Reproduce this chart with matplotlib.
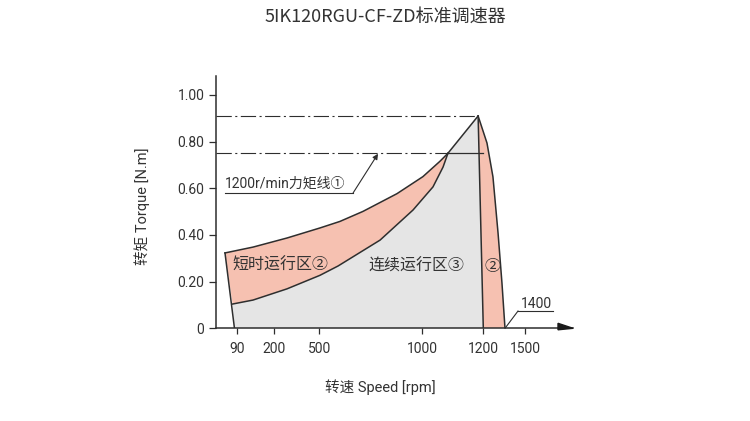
import numpy as np
import matplotlib
matplotlib.use("Agg")
import matplotlib.pyplot as plt
from matplotlib.patches import Polygon

plt.rcParams['font.family'] = ['Roboto', 'Noto Sans CJK SC', 'DejaVu Sans']
plt.rcParams['lines.scale_dashes'] = False

# ---------------- data ----------------
title = "5IK120RGU-CF-ZD标准调速器"
xlabel = "转速 Speed [rpm]"
ylabel = "转矩 Torque [N.m]"
x_ticks = [90, 200, 500, 1000, 1200, 1500]
x_ticklabels = ["90", "200", "500", "1000", "1200", "1500"]
y_ticks = [0, 0.2, 0.4, 0.6, 0.8, 1.0]
y_ticklabels = ["0", "0.20", "0.40", "0.60", "0.80", "1.00"]

# short-time zone upper boundary (rpm, N.m)
upper_rpm = [38, 137, 286, 503, 600, 712, 877, 1002, 1058, 1084]
upper_tq = [0.323, 0.348, 0.387, 0.430, 0.458, 0.501, 0.577, 0.650, 0.716, 0.750]
# continuous zone upper boundary
lower_rpm = [70, 137, 286, 503, 591, 795, 955, 1035, 1068, 1084]
lower_tq = [0.104, 0.121, 0.169, 0.227, 0.267, 0.378, 0.507, 0.606, 0.691, 0.750]
# peak and right edges
peak_rpm, peak_tq = 1183, 0.91
base_left_rpm = 78
base_cont_rpm = 1200
# short-time right boundary (after 1200 r/min)
right_rpm = [1183, 1234, 1289, 1336, 1372, 1400]
right_tq = [0.91, 0.794, 0.649, 0.408, 0.194, 0.0]
rated_tq = 0.75      # 1200 r/min torque line
rated_cross_rpm = 1084

# non-uniform schematic speed axis (rpm -> relative position)
scale_rpm = [-1000, 0, 90, 200, 500, 1000, 1200, 1400, 1500, 1850, 10000]
scale_pos = [-20.7, 216, 237.3, 274, 319.3, 422.3, 483.3, 505, 525, 573, 1690]

fwd = lambda v: np.interp(v, scale_rpm, scale_pos)
inv = lambda p: np.interp(p, scale_pos, scale_rpm)

# ---------------- figure ----------------
fig = plt.figure(figsize=(7.5, 4.21), dpi=100)
ax_h = (328.3 - 76.3) / 421
ax = fig.add_axes([216 / 750, (421 - 328.3) / 421, (573 - 216) / 750, ax_h])
ax.set_xscale('function', functions=(fwd, inv))
ax.set_xlim(0, 1850)
ax.set_ylim(0, 1.08)

edge = '#2e2e2e'
gray = '#e5e5e5'
red = '#f6c1b1'
txt = '#333333'

# continuous zone (gray)
cont_x = [base_left_rpm] + lower_rpm + [peak_rpm, base_cont_rpm]
cont_y = [0] + lower_tq + [peak_tq, 0]
ax.fill(cont_x, cont_y, color=gray, lw=0, zorder=1)
# short-time zone left (red)
st_x = upper_rpm + lower_rpm[::-1]
st_y = upper_tq + lower_tq[::-1]
ax.fill(st_x, st_y, color=red, lw=0, zorder=1)
# short-time zone right (red)
sr_x = right_rpm + [base_cont_rpm]
sr_y = right_tq + [0]
ax.fill(sr_x, sr_y, color=red, lw=0, zorder=1)

lw = 1.1
kw = dict(color=edge, lw=lw, zorder=3, solid_joinstyle='round')
ax.plot([upper_rpm[0], base_left_rpm], [upper_tq[0], 0], **kw)
ax.plot(upper_rpm, upper_tq, **kw)
ax.plot(lower_rpm, lower_tq, **kw)
ax.plot([rated_cross_rpm, peak_rpm], [rated_tq, peak_tq], **kw)
ax.plot([peak_rpm, base_cont_rpm], [peak_tq, 0], **kw)
ax.plot(right_rpm, right_tq, **kw)

# dash-dot reference lines
dd = (0, (11, 2.5, 1.5, 2.5))
ax.plot([0, peak_rpm], [peak_tq, peak_tq], color=edge, lw=0.8, linestyle=dd, zorder=2)
ax.plot([0, rated_cross_rpm], [rated_tq, rated_tq], color=edge, lw=0.8, linestyle=dd, zorder=2)
ax.plot([rated_cross_rpm, base_cont_rpm], [rated_tq, rated_tq], color=edge, lw=0.9, zorder=2)

# annotation: 1200r/min torque line
ax.text(38, 0.6185, "1200r/min力矩线①", fontsize=10, color=txt, ha='left', va='center', zorder=4)
ax.plot([38, 664], [0.58, 0.58], color=edge, lw=0.8, zorder=4)
ax.annotate('', xy=(785, 0.748), xytext=(664, 0.58),
            arrowprops=dict(arrowstyle='-|>', color=edge, lw=0.8, mutation_scale=8,
                            shrinkA=0, shrinkB=0), zorder=4)

# annotation: 1400
ax.text(1587, 0.104, "1400", fontsize=10, color=txt, ha='center', va='center', zorder=4)
ax.plot([1465, 1704], [0.074, 0.074], color=edge, lw=0.8, clip_on=False, zorder=4)
ax.plot([1465, 1400], [0.074, 0.0], color=edge, lw=0.8, clip_on=False, zorder=4)

# zone labels
ax.text(240, 0.271, "短时运行区②", fontsize=11.5, color=txt, ha='center', va='center', zorder=4)
ax.text(972, 0.268, "连续运行区③", fontsize=11.5, color=txt, ha='center', va='center', zorder=4)
ax.text(1285, 0.263, "②", fontsize=11.5, color=txt, ha='center', va='center', zorder=4)

# axes styling
for s in ['top', 'right']:
    ax.spines[s].set_visible(False)
for s in ['left', 'bottom']:
    ax.spines[s].set_color(edge)
    ax.spines[s].set_linewidth(1.1)
ax.set_xticks(x_ticks)
ax.set_xticklabels(x_ticklabels)
ax.xaxis.set_minor_locator(matplotlib.ticker.NullLocator())
ax.set_yticks(y_ticks)
ax.set_yticklabels(y_ticklabels)
ax.tick_params(axis='x', direction='out', length=4.5, width=0.9, pad=5.5,
               colors=edge, labelsize=10, labelcolor=txt)
ax.tick_params(axis='y', direction='out', length=4.8, width=0.9, pad=3.6,
               colors=edge, labelsize=10, labelcolor=txt)
ax.set_facecolor('none')

# x-axis arrow head
w = 573 - 216
h = 328.3 - 76.3
tri = Polygon([[1 - 15 / w, 5 / h], [1.0, 0.0], [1 - 15 / w, -1.5 / h]], closed=True,
              transform=ax.transAxes, clip_on=False, color='#1a1a1a', zorder=5)
ax.add_patch(tri)

fig.text(385 / 750, 1 - 17 / 421, title, fontsize=13, color=txt, ha='center', va='center',
         family=['Noto Sans CJK SC', 'DejaVu Sans'], weight='medium')
fig.text(380 / 750, 1 - 386.7 / 421, xlabel, fontsize=10.5, color=txt, ha='center', va='center')
fig.text(142 / 750, 1 - 206 / 421, ylabel, fontsize=10.5, color=txt, ha='center', va='center',
         rotation=90)

fig.savefig('out.png', dpi=100)
